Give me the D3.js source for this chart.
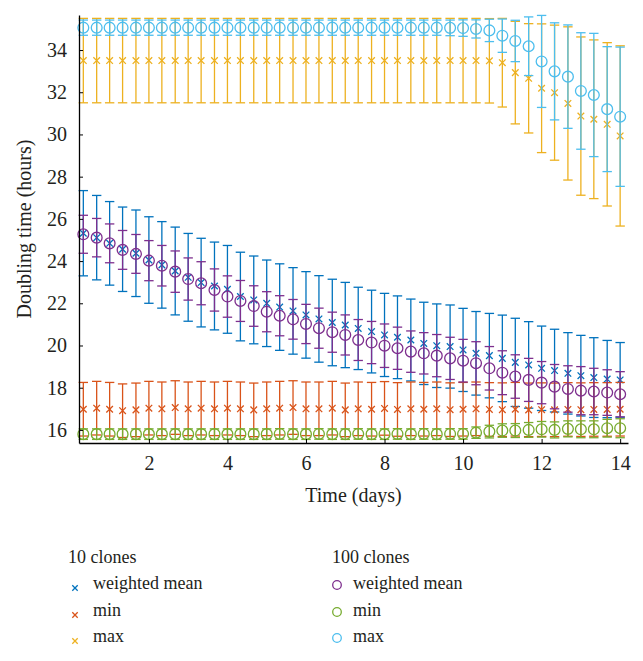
<!DOCTYPE html>
<html>
<head>
<meta charset="utf-8">
<script src="https://cdn.jsdelivr.net/npm/d3@7"></script>
<style>
  html, body { margin: 0; padding: 0; background: #fff; }
  svg { display: block; }
  text { font-family: "Liberation Serif", "DejaVu Serif", serif; fill: #231f20; }
</style>
</head>
<body>
<svg id="chart" width="643" height="661"></svg>
<script>
// ---- data ----
const time = [0.33,0.67,1.00,1.33,1.67,2.00,2.33,2.67,3.00,3.33,3.67,4.00,4.33,4.67,5.00,5.33,5.67,6.00,6.33,6.67,7.00,
              7.33,7.67,8.00,8.33,8.67,9.00,9.33,9.67,10.00,10.33,10.67,11.00,11.33,11.67,12.00,12.33,12.67,13.00,13.33,13.67,14.00];

// 10 clones
const mean10 = [25.32,25.11,24.84,24.56,24.37,24.05,23.82,23.53,23.23,22.98,22.82,22.66,22.32,22.16,22.00,21.82,21.64,21.45,21.26,21.09,20.97,
                20.81,20.66,20.50,20.39,20.26,20.10,19.99,19.95,19.79,19.63,19.52,19.39,19.20,19.08,18.92,18.81,18.68,18.57,18.48,18.41,18.37];
const mean10Err = [2.02,2.00,1.98,2.00,2.05,2.05,2.05,2.08,2.08,2.10,2.08,2.08,2.10,2.08,2.05,2.05,2.05,2.05,2.05,2.05,2.02,
                   1.95,1.96,1.97,1.96,1.94,1.95,1.98,1.97,1.97,1.98,2.00,2.05,2.09,2.05,2.00,1.96,1.93,1.91,1.89,1.83,1.77];
const min10 = [16.98,17.03,16.98,16.91,16.95,17.03,17.00,17.06,17.00,17.03,17.00,17.03,17.00,16.95,17.00,17.03,17.06,17.00,17.00,17.03,16.95,
               17.00,16.98,17.02,16.97,17.00,16.98,17.00,16.96,16.98,17.00,16.97,16.96,16.98,16.95,16.96,16.95,16.97,16.96,16.97,16.97,16.98];
const min10Err = [1.27,1.27,1.27,1.27,1.27,1.27,1.27,1.27,1.27,1.27,1.27,1.27,1.27,1.27,1.27,1.27,1.27,1.27,1.27,1.27,1.27,
                  1.27,1.27,1.27,1.27,1.27,1.27,1.27,1.27,1.27,1.27,1.27,1.27,1.27,1.27,1.27,1.27,1.27,1.27,1.27,1.27,1.27];
const max10 = [33.50,33.50,33.50,33.50,33.50,33.50,33.50,33.50,33.50,33.50,33.50,33.50,33.50,33.50,33.50,33.50,33.50,33.50,33.50,33.50,33.50,
               33.50,33.50,33.50,33.50,33.50,33.50,33.50,33.50,33.50,33.50,33.49,33.40,32.93,32.66,32.19,31.98,31.47,30.87,30.72,30.48,29.93];
const max10Err = [2.00,2.00,2.00,2.00,2.00,2.00,2.00,2.00,2.00,2.00,2.00,2.00,2.00,2.00,2.00,2.00,2.00,2.00,2.00,2.00,2.00,
                  2.00,2.00,2.00,2.00,2.00,2.00,2.00,2.00,2.00,2.00,2.00,2.10,2.43,2.59,3.05,3.20,3.63,3.75,3.76,3.87,4.27];

// 100 clones
const mean100 = [25.27,25.11,24.84,24.53,24.34,24.02,23.78,23.50,23.15,22.95,22.63,22.32,22.11,21.87,21.60,21.41,21.24,21.02,20.82,20.63,20.50,
                 20.26,20.14,19.99,19.87,19.71,19.63,19.52,19.39,19.28,19.16,18.92,18.71,18.53,18.37,18.24,18.05,17.94,17.86,17.82,17.77,17.69];
const mean100Err = [0.90,0.91,0.92,0.92,0.92,0.95,0.96,0.98,1.00,1.02,1.00,0.98,0.97,0.96,0.95,0.95,0.94,0.93,0.95,0.95,0.95,
                    0.97,1.00,1.03,1.00,0.98,0.98,1.00,1.00,1.01,1.02,1.03,1.04,1.03,1.02,1.00,1.05,1.10,1.14,1.10,1.08,1.07];
const min100 = [15.80,15.80,15.80,15.80,15.80,15.80,15.80,15.80,15.80,15.80,15.80,15.80,15.80,15.80,15.80,15.81,15.80,15.80,15.81,15.80,15.80,
                15.81,15.80,15.80,15.81,15.80,15.81,15.80,15.81,15.81,15.87,15.92,15.97,15.97,16.00,16.03,16.00,16.05,16.03,16.03,16.08,16.08];
const min100Err = [0.25,0.25,0.25,0.25,0.25,0.25,0.25,0.25,0.25,0.25,0.25,0.25,0.25,0.25,0.25,0.25,0.25,0.25,0.25,0.25,0.25,
                   0.25,0.25,0.25,0.25,0.25,0.25,0.25,0.25,0.25,0.27,0.30,0.32,0.33,0.35,0.37,0.38,0.38,0.40,0.40,0.42,0.45];
const max100 = [35.06,35.06,35.06,35.06,35.06,35.06,35.06,35.06,35.06,35.06,35.06,35.06,35.06,35.06,35.06,35.06,35.06,35.06,35.06,35.06,35.06,
                35.06,35.06,35.06,35.06,35.06,35.06,35.06,35.05,35.04,35.00,34.93,34.68,34.43,34.18,33.46,32.99,32.74,32.06,31.87,31.20,30.84];
const max100Err = [0.36,0.36,0.36,0.36,0.36,0.36,0.36,0.36,0.36,0.36,0.36,0.36,0.36,0.36,0.36,0.36,0.36,0.36,0.36,0.36,0.36,
                   0.36,0.36,0.36,0.36,0.36,0.36,0.36,0.37,0.39,0.43,0.53,0.79,0.98,1.39,2.18,2.30,2.45,2.76,2.92,2.96,3.30];

const xTicks = [2,4,6,8,10,12,14];
const yTicks = [16,18,20,22,24,26,28,30,32,34];
const groupLabels = ["10 clones", "100 clones"];
const seriesLabels = ["weighted mean", "min", "max"];

// ---- series table ----
const series = [
  {label: "weighted mean", group: 0, marker: "x", color: "#0072BD", v: mean10,  e: mean10Err},
  {label: "min",           group: 0, marker: "x", color: "#D95319", v: min10,   e: min10Err},
  {label: "max",           group: 0, marker: "x", color: "#EDB120", v: max10,   e: max10Err},
  {label: "weighted mean", group: 1, marker: "o", color: "#7E2F8E", v: mean100, e: mean100Err},
  {label: "min",           group: 1, marker: "o", color: "#77AC30", v: min100,  e: min100Err},
  {label: "max",           group: 1, marker: "o", color: "#4DBEEE", v: max100,  e: max100Err}
];

// ---- layout ----
const svg = d3.select("#chart");
const L = 79, R = 628, T = 15, B = 443;
const x = d3.scaleLinear().domain([0.22, 14.2]).range([L, R]);
const y = d3.scaleLinear().domain([15.38, 35.66]).range([B, T]);

svg.append("defs").append("clipPath").attr("id", "clip")
  .append("rect").attr("x", L - 8).attr("y", T - 2).attr("width", R - L + 16).attr("height", B - T + 4);

const plot = svg.append("g").attr("clip-path", "url(#clip)");
const cap = 4.7, lw = 1.3;

series.forEach(s => {
  const g = plot.append("g").attr("stroke", s.color).attr("fill", "none").attr("stroke-width", lw);
  const pts = time.map((t, i) => ({t, v: s.v[i], e: s.e[i]}));
  // error bars
  const eb = g.selectAll("g.eb").data(pts).join("g").attr("class", "eb");
  eb.append("line").attr("x1", d => x(d.t)).attr("x2", d => x(d.t))
    .attr("y1", d => y(d.v - d.e)).attr("y2", d => y(d.v + d.e));
  eb.append("line").attr("x1", d => x(d.t) - cap).attr("x2", d => x(d.t) + cap)
    .attr("y1", d => y(d.v + d.e)).attr("y2", d => y(d.v + d.e));
  eb.append("line").attr("x1", d => x(d.t) - cap).attr("x2", d => x(d.t) + cap)
    .attr("y1", d => y(d.v - d.e)).attr("y2", d => y(d.v - d.e));
  // markers
  if (s.marker === "o") {
    g.selectAll("circle").data(pts).join("circle")
      .attr("cx", d => x(d.t)).attr("cy", d => y(d.v)).attr("r", 5.4);
  } else {
    const h = 3.3;
    g.selectAll("path.m").data(pts).join("path").attr("class", "m")
      .attr("d", d => {
        const cx = x(d.t), cy = y(d.v);
        return `M${cx-h},${cy-h}L${cx+h},${cy+h}M${cx-h},${cy+h}L${cx+h},${cy-h}`;
      });
  }
});

// ---- axes ----
const xAxis = d3.axisBottom(x).tickValues(xTicks).tickFormat(d3.format("d"))
  .tickSizeInner(-4).tickSizeOuter(0).tickPadding(13);
const yAxis = d3.axisLeft(y).tickValues(yTicks).tickFormat(d3.format("d"))
  .tickSizeInner(-4).tickSizeOuter(0).tickPadding(12);

const gx = svg.append("g").attr("transform", `translate(0,${B})`).call(xAxis);
const gy = svg.append("g").attr("transform", `translate(${L},0)`).call(yAxis);
[gx, gy].forEach(g => {
  g.select(".domain").attr("stroke", "#000").attr("stroke-width", 1.3);
  g.selectAll(".tick line").attr("stroke", "#000").attr("stroke-width", 1);
  g.selectAll(".tick text").attr("font-size", 20)
    .attr("font-family", "'Liberation Serif', serif").attr("fill", "#231f20");
});

svg.append("text").attr("x", (L + R) / 2).attr("y", 502).attr("text-anchor", "middle")
  .attr("font-size", 20).text("Time (days)");
svg.append("text").attr("transform", `translate(31,229) rotate(-90)`).attr("text-anchor", "middle")
  .attr("font-size", 20).text("Doubling time (hours)");

// ---- legend ----
const legendCols = [{hx: 68, mx: 75, tx: 93}, {hx: 332, mx: 337, tx: 353}];
const rowY = [588, 615, 641];
groupLabels.forEach((gl, gi) => {
  const c = legendCols[gi];
  svg.append("text").attr("x", c.hx).attr("y", 563).attr("font-size", 18).text(gl);
});
series.forEach(s => {
  const c = legendCols[s.group];
  const ri = seriesLabels.indexOf(s.label);
  const cy = rowY[ri];
  if (s.marker === "o") {
    svg.append("circle").attr("cx", c.mx).attr("cy", cy - 3).attr("r", 4.3)
      .attr("fill", "none").attr("stroke", s.color).attr("stroke-width", 1.3);
  } else {
    const h = 2.7, cx = c.mx, yy = cy;
    svg.append("path").attr("d", `M${cx-h},${yy-h}L${cx+h},${yy+h}M${cx-h},${yy+h}L${cx+h},${yy-h}`)
      .attr("stroke", s.color).attr("stroke-width", 1.3).attr("fill", "none");
  }
  svg.append("text").attr("x", c.tx).attr("y", cy + 1).attr("font-size", 18).text(s.label);
});
</script>
</body>
</html>
